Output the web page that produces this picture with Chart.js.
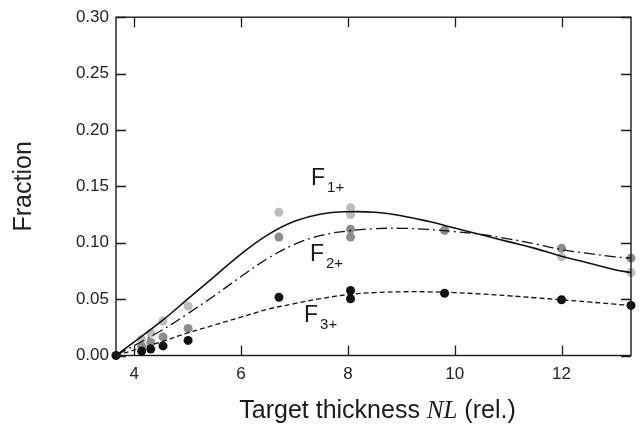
<!DOCTYPE html>
<html>
<head>
<meta charset="utf-8">
<script src="https://cdn.jsdelivr.net/npm/chart.js@4/dist/chart.umd.min.js"></script>
<style>
  html, body { margin: 0; padding: 0; background: #fff; }
  #c { display: block; }
</style>
</head>
<body>
<canvas id="c" width="642" height="432"></canvas>
<script>
// ---- Data ----
// Measured points
const f1X = [4.14, 4.31, 4.54, 5.01, 6.71, 8.05, 8.05, 9.81, 12.0, 13.3];
const f1Y = [0.0145, 0.020, 0.0306, 0.0438, 0.127, 0.131, 0.125, 0.111, 0.0874, 0.0736];
const f2X = [4.14, 4.31, 4.54, 5.01, 6.71, 8.05, 8.05, 9.81, 12.0, 13.3];
const f2Y = [0.0082, 0.0116, 0.0165, 0.0240, 0.105, 0.112, 0.105, 0.111, 0.095, 0.0863];
const f3X = [3.66, 4.14, 4.31, 4.54, 5.01, 6.71, 8.05, 8.05, 9.81, 12.0, 13.3];
const f3Y = [0.0, 0.0040, 0.0057, 0.0085, 0.0134, 0.0517, 0.0576, 0.0503, 0.0552, 0.0494, 0.0444];

// Fitted curves
const curveX  = [3.66, 4.5, 5.0, 5.5, 6.0, 6.5, 7.0, 7.5, 8.0, 8.5, 9.0, 9.5, 10.0, 10.5, 11.0, 11.5, 12.0, 12.5, 13.0, 13.3];
const curve1Y = [0, 0.030, 0.050, 0.070, 0.090, 0.107, 0.119, 0.1255, 0.1275, 0.127, 0.124, 0.119, 0.113, 0.107, 0.101, 0.095, 0.088, 0.082, 0.076, 0.0736];
const curve2Y = [0, 0.022, 0.037, 0.053, 0.070, 0.086, 0.0985, 0.1065, 0.1105, 0.1125, 0.1128, 0.1118, 0.1098, 0.1073, 0.1035, 0.099, 0.094, 0.0905, 0.0875, 0.0863];
const curve3Y = [0, 0.012, 0.020, 0.027, 0.034, 0.041, 0.046, 0.0505, 0.054, 0.0558, 0.0565, 0.0565, 0.0558, 0.0545, 0.053, 0.0512, 0.0494, 0.0475, 0.0455, 0.0444];

// Axis ticks
const xTicks = [4, 6, 8, 10, 12];
const yTicks = [0, 0.05, 0.10, 0.15, 0.20, 0.25, 0.30];

// Series labels (anchor in data space)
const labelMain = ['F', 'F', 'F'];
const labelSub  = ['1+', '2+', '3+'];
const labelX = [7.31, 7.29, 7.18];
const labelY = [0.1511, 0.0839, 0.0294];

const xTitleParts = [
  { text: 'Target thickness ', font: '25px "Liberation Sans", Arial, sans-serif' },
  { text: 'NL', font: 'italic 25px "Liberation Serif", "Times New Roman", serif' },
  { text: ' (rel.)', font: '25px "Liberation Sans", Arial, sans-serif' }
];

const pts = (xs, ys) => xs.map((x, i) => ({ x: x, y: ys[i] }));

const frameAndLabels = {
  id: 'frameAndLabels',
  afterDatasetsDraw(chart) {
    const { ctx, chartArea: a, scales } = chart;
    const xs = scales.x, ys = scales.y;
    ctx.save();
    ctx.strokeStyle = '#1a1a1a';
    ctx.lineWidth = 1.4;
    ctx.strokeRect(a.left, a.top, a.right - a.left, a.bottom - a.top);
    const L = 10;
    ctx.lineWidth = 1.3;
    ctx.beginPath();
    xTicks.forEach(v => {
      const px = Math.round(xs.getPixelForValue(v)) + 0.5;
      ctx.moveTo(px, a.bottom); ctx.lineTo(px, a.bottom - L);
      ctx.moveTo(px, a.top); ctx.lineTo(px, a.top + L);
    });
    yTicks.forEach(v => {
      const py = Math.round(ys.getPixelForValue(v)) + 0.5;
      ctx.moveTo(a.left, py); ctx.lineTo(a.left + L, py);
      ctx.moveTo(a.right, py); ctx.lineTo(a.right - L, py);
    });
    ctx.stroke();
    ctx.restore();
  },
  afterDraw(chart) {
    const { ctx, chartArea: a, scales } = chart;
    const xs = scales.x, ys = scales.y;
    ctx.save();
    ctx.fillStyle = '#1a1a1a';
    ctx.textBaseline = 'alphabetic';
    ctx.textAlign = 'left';
    for (let i = 0; i < labelMain.length; i++) {
      const px = xs.getPixelForValue(labelX[i]);
      const py = ys.getPixelForValue(labelY[i]);
      ctx.font = '23px "Liberation Sans", Arial, sans-serif';
      ctx.fillText(labelMain[i], px, py);
      const w = ctx.measureText(labelMain[i]).width;
      ctx.font = '15px "Liberation Sans", Arial, sans-serif';
      ctx.fillText(labelSub[i], px + w + 2, py + 7);
    }
    // x-axis title with italic NL
    let total = 0;
    xTitleParts.forEach(p => { ctx.font = p.font; total += ctx.measureText(p.text).width; });
    let x = (a.left + a.right) / 2 + 4 - total / 2;
    const baseY = a.bottom + 62;
    xTitleParts.forEach(p => {
      ctx.font = p.font;
      ctx.fillText(p.text, x, baseY);
      x += ctx.measureText(p.text).width;
    });
    ctx.restore();
  }
};

new Chart(document.getElementById('c'), {
  type: 'scatter',
  data: {
    datasets: [
      { type: 'line', label: 'F1+ fit', data: pts(curveX, curve1Y), borderColor: '#111', borderWidth: 1.6,
        pointRadius: 0, fill: false, tension: 0.4 },
      { type: 'line', label: 'F2+ fit', data: pts(curveX, curve2Y), borderColor: '#111', borderWidth: 1.3,
        borderDash: [11, 4, 2, 4], pointRadius: 0, fill: false, tension: 0.4 },
      { type: 'line', label: 'F3+ fit', data: pts(curveX, curve3Y), borderColor: '#111', borderWidth: 1.3,
        borderDash: [5, 3], pointRadius: 0, fill: false, tension: 0.4 },
      { label: 'F3+', data: pts(f3X, f3Y), backgroundColor: '#111', borderWidth: 0, pointRadius: 4.5, clip: false },
      { label: 'F2+', data: pts(f2X, f2Y), backgroundColor: '#8c8c8c', borderWidth: 0, pointRadius: 4.5, clip: false },
      { label: 'F1+', data: pts(f1X, f1Y), backgroundColor: '#bdbdbd', borderWidth: 0, pointRadius: 4.5, clip: false }
    ]
  },
  options: {
    responsive: false,
    animation: false,
    devicePixelRatio: 1,
    layout: { padding: { top: 14, right: 11, left: 0, bottom: 0 } },
    plugins: { legend: { display: false }, tooltip: { enabled: false } },
    scales: {
      x: {
        type: 'linear', min: 3.66, max: 13.3,
        afterBuildTicks: s => { s.ticks = xTicks.map(v => ({ value: v })); },
        afterFit: s => { s.height = 76.5; },
        grid: { display: false, drawTicks: false },
        border: { display: false },
        ticks: { font: { family: '"Liberation Sans", Arial, sans-serif', size: 17 }, color: '#222', padding: 9,
                  callback: v => String(v) }
      },
      y: {
        type: 'linear', min: 0, max: 0.3,
        afterBuildTicks: s => { s.ticks = yTicks.map(v => ({ value: v })); },
        afterFit: s => { s.width = 116; },
        grid: { display: false, drawTicks: false },
        border: { display: false },
        ticks: { font: { family: '"Liberation Sans", Arial, sans-serif', size: 17 }, color: '#222', padding: 7,
                  callback: v => Number(v).toFixed(2) },
        title: { display: true, text: 'Fraction', color: '#222',
                 font: { family: '"Liberation Sans", Arial, sans-serif', size: 25 }, padding: { top: 9, bottom: 0 } }
      }
    }
  },
  plugins: [frameAndLabels]
});
</script>
</body>
</html>
